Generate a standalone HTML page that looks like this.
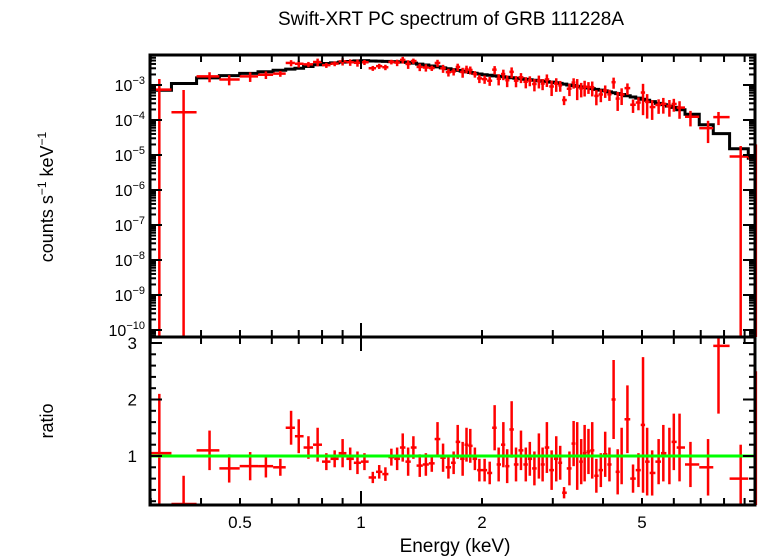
<!DOCTYPE html>
<html><head><meta charset="utf-8"><style>
html,body{margin:0;padding:0;background:#fff;}
svg{display:block;font-family:"Liberation Sans",sans-serif;}
</style></head><body>
<svg id="chart" width="758" height="556" viewBox="0 0 758 556" xmlns="http://www.w3.org/2000/svg">
<text x="451" y="25" font-size="19" text-anchor="middle">Swift-XRT PC spectrum of GRB 111228A</text>
<text transform="translate(53,197) rotate(-90)" font-size="18" text-anchor="middle">counts s<tspan dy="-7" font-size="12">−1</tspan><tspan dy="7"> keV</tspan><tspan dy="-7" font-size="12">−1</tspan></text>
<text transform="translate(53,421) rotate(-90)" font-size="18" text-anchor="middle">ratio</text>
<text x="455" y="552" font-size="19" text-anchor="middle">Energy (keV)</text>
<g id="topG"></g>
<g id="botG"></g>
<g id="frames"></g>
</svg>
<script>
// data
const energy=[0.315,0.362,0.42,0.47,0.53,0.58,0.63,0.67,0.70,0.74,0.78,0.82,0.86,0.9,0.94,0.98,1.02,1.07,1.11,1.15,1.19,1.23,1.27,1.31,1.35,1.4,1.45,1.5,1.55,1.6,1.65,1.7,1.74,1.79,1.83,1.87,1.92,1.97,2.03,2.09,2.15,2.2,2.26,2.31,2.37,2.43,2.5,2.57,2.63,2.7,2.77,2.83,2.9,2.98,3.06,3.13,3.2,3.3,3.38,3.45,3.53,3.6,3.68,3.76,3.85,3.95,4.05,4.15,4.25,4.35,4.45,4.6,4.75,4.9,5.03,5.15,5.3,5.5,5.65,5.85,6.0,6.2,6.6,7.3,7.75,8.8,9.6];
const ratio=[1.05,0.15,1.1,0.78,0.82,0.82,0.8,1.5,1.35,1.15,1.2,0.9,0.95,1.05,0.95,0.88,0.9,0.62,0.72,0.68,0.98,0.95,1.15,0.9,1.15,0.83,0.85,0.87,1.3,0.97,0.8,0.88,1.25,0.95,1.2,1.18,0.95,0.75,0.75,0.7,1.5,0.85,1.2,0.82,1.47,0.85,1.1,0.85,0.95,0.78,1.0,0.85,1.15,0.75,0.95,0.88,0.35,0.78,1.22,1.0,0.9,1.05,1.08,1.1,0.65,0.75,1.03,0.85,2.0,0.72,1.0,1.65,0.6,0.75,1.55,0.9,0.7,0.9,1.05,1.0,1.25,1.15,0.85,0.8,2.95,0.6,1.0];
const ratioErr=[1.05,0.5,0.35,0.25,0.25,0.2,0.15,0.3,0.3,0.2,0.3,0.15,0.15,0.25,0.2,0.2,0.15,0.1,0.12,0.12,0.15,0.2,0.25,0.25,0.2,0.2,0.2,0.15,0.3,0.25,0.2,0.2,0.3,0.3,0.3,0.3,0.2,0.2,0.2,0.2,0.4,0.3,0.4,0.3,0.5,0.3,0.35,0.3,0.3,0.3,0.4,0.3,0.45,0.35,0.4,0.3,0.1,0.3,0.4,0.6,0.4,0.5,0.4,0.5,0.3,0.3,0.4,0.3,0.7,0.4,0.5,0.6,0.25,0.3,1.2,0.6,0.4,0.4,0.5,0.5,0.5,0.6,0.4,0.5,1.2,0.6,1.5];
const modelNodeE=[0.3,0.35,0.4,0.5,0.7,0.8,1.0,1.3,1.5,2.0,3.0,4.0,5.0,6.0,7.0,8.0,10.0];
const modelNodeV=[6e-4,1e-3,1.5e-3,2e-3,3e-3,4e-3,5e-3,4.5e-3,3.5e-3,2e-3,1.2e-3,7e-4,4e-4,2.3e-4,1.1e-4,3e-5,6e-6];
const topTickExp=[-3,-4,-5,-6,-7,-8,-9,-10];
const ratioTicks=[1,2,3];
const xTickLabels=[0.5,1,2,5];

const X0=150,X1=755,TY0=55,TY1=337,BY0=337,BY1=505;
const xE=e=>361+402*Math.log10(e);
const yT=v=>85-35*(Math.log10(v)+3);
const yR=r=>456-56.5*(r-1);
function model(e){
  for(let i=0;i<modelNodeE.length-1;i++){
    if(e<=modelNodeE[i+1]){
      const t=(Math.log(e)-Math.log(modelNodeE[i]))/(Math.log(modelNodeE[i+1])-Math.log(modelNodeE[i]));
      return Math.exp(Math.log(modelNodeV[i])+t*(Math.log(modelNodeV[i+1])-Math.log(modelNodeV[i])));
    }
  }
  return modelNodeV[modelNodeV.length-1];
}
function binLo(i){return i===0?energy[0]*energy[0]/Math.sqrt(energy[0]*energy[1]):Math.sqrt(energy[i-1]*energy[i]);}
function binHi(i){const n=energy.length;return i===n-1?energy[i]*energy[i]/Math.sqrt(energy[i-1]*energy[i]):Math.sqrt(energy[i]*energy[i+1]);}
const NS="http://www.w3.org/2000/svg";
function mk(tag,attrs,parent){const el=document.createElementNS(NS,tag);for(const k in attrs)el.setAttribute(k,attrs[k]);parent.appendChild(el);return el;}
const topG=document.getElementById('topG'),botG=document.getElementById('botG'),fr=document.getElementById('frames');
const clipT=(y)=>Math.max(TY0,Math.min(TY1,y));
const clipB=(y)=>Math.max(BY0,Math.min(BY1,y));
const clipX=(x)=>Math.max(X0,Math.min(X1,x));

let d='';
energy.forEach((e,i)=>{
  const xa=clipX(xE(binLo(i))),xb=clipX(xE(binHi(i)));const y=yT(model(e));
  d+=(i===0?'M':'L')+xa+','+y+' L'+xb+','+y+' ';
});
const ml=mk('path',{d:d,fill:'none',stroke:'#000','stroke-width':3},topG);



energy.forEach((e,i)=>{
  const m=model(e),xa=clipX(xE(binLo(i))),xb=clipX(xE(binHi(i))),xc=xE(e);
  const r=ratio[i],re=ratioErr[i];
  const v=m*r,lo=m*(r-re),hi=m*(r+re);
  const g=mk('g',{stroke:'#f00','stroke-width':2.5},topG);
  
  
  mk('line',{x1:xa,x2:xb,y1:yT(v),y2:yT(v)},g);
  mk('line',{x1:xc,x2:xc,y1:clipT(yT(hi)),y2:lo>0?clipT(yT(lo)):TY1},g);
  const g2=mk('g',{stroke:'#f00','stroke-width':2.5},botG);
  
  
  mk('line',{x1:xa,x2:xb,y1:clipB(yR(r)),y2:clipB(yR(r))},g2);
  mk('line',{x1:xc,x2:xc,y1:clipB(yR(r+re)),y2:clipB(yR(r-re))},g2);
});
const gl=mk('line',{x1:X0,x2:X1,y1:yR(1),y2:yR(1),stroke:'#0f0','stroke-width':3},botG);



[[TY0,TY1],[BY0,BY1]].forEach(([a,b],k)=>{
  const r=mk('rect',{x:X0,y:a,width:X1-X0,height:b-a,fill:'none',stroke:'#000','stroke-width':3},fr);
  
  
  for(let dec=-1;dec<=0;dec++)for(let j=1;j<=9;j++){
    const e=j*Math.pow(10,dec);const x=xE(e);if(x<X0||x>X1)continue;
    const L=(j===1)?14:7;
    const t1=mk('line',{x1:x,x2:x,y1:a,y2:a+L,stroke:'#000','stroke-width':2},fr);
    
    const t2=mk('line',{x1:x,x2:x,y1:b,y2:b-L,stroke:'#000','stroke-width':2},fr);
    
  }
});
for(let p=-11;p<=-2;p++)for(let j=1;j<=9;j++){
  const y=yT(j*Math.pow(10,p));if(y<TY0||y>TY1)continue;
  const L=j===1?12:6;
  [[X0,X0+L],[X1,X1-L]].forEach(([xa,xb])=>{const t=mk('line',{x1:xa,x2:xb,y1:y,y2:y,stroke:'#000','stroke-width':2},fr);
  });
}
topTickExp.forEach(p=>{
  const t=mk('text',{x:145,y:yT(Math.pow(10,p))+6,'font-size':16,'text-anchor':'end'},fr);
  
  const s1=mk('tspan',{},t);s1.textContent='10';
  const s2=mk('tspan',{dy:-7,'font-size':11},t);s2.textContent='−'+(-p);
});
for(let r=0.2;r<=3.1;r+=0.2){
  const y=yR(r);if(y<BY0||y>BY1)continue;
  const major=Math.abs(r-Math.round(r))<0.01;const L=major?12:6;
  [[X0,X0+L],[X1,X1-L]].forEach(([xa,xb])=>{const t=mk('line',{x1:xa,x2:xb,y1:y,y2:y,stroke:'#000','stroke-width':2},fr);
  });
}
ratioTicks.forEach(r=>{
  const t=mk('text',{x:137,y:yR(r)+6,'font-size':17,'text-anchor':'end'},fr);
  
  t.textContent=r;
});
xTickLabels.forEach(e=>{
  const t=mk('text',{x:xE(e),y:528,'font-size':17,'text-anchor':'middle'},fr);
  
  t.textContent=e;
});
</script>
</body></html>
